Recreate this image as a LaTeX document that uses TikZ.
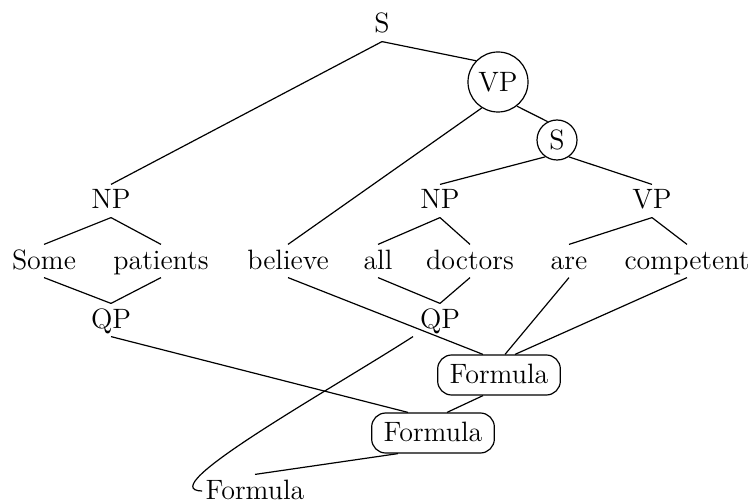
\documentclass[tikz,border=0pt]{standalone}
\usepackage{tikz}
\usetikzlibrary{calc}
\tikzset{word/.style={font=\fontsize{14}{16}\selectfont,text height=10.5pt,text depth=2.5pt,inner sep=1.5pt},ring/.style={draw,circle,font=\fontsize{14}{16}\selectfont,inner sep=0pt},formula/.style={word,draw,rounded corners=7pt,inner xsep=6pt,inner ysep=3.5pt},edge/.style={line width=0.6pt}}

\begin{document}
\begin{tikzpicture}[x=0.5pt,y=-0.5pt,line width=0.6pt]
\useasboundingbox (0,0) rectangle (754,502);
% upper tree
\node[word] (S) at (382,25) {S};
\node[ring,minimum size=30pt] (VP) at (498,82) {VP};
\node[ring,minimum size=20pt] (S2) at (557,140) {S};
\node[word] (NPa) at (111,201) {NP};
\node[word] (NPb) at (440,201) {NP};
\node[word] (VP2) at (652,201) {VP};
% words
\node[word] (some) at (44,261) {Some};
\node[word] (patients) at (161,261) {patients};
\node[word] (believe) at (288,261) {believe};
\node[word] (all) at (378,261) {all};
\node[word] (doctors) at (470,261) {doctors};
\node[word] (are) at (569,261) {are};
\node[word] (competent) at (687,261) {competent};
% lower part
\node[word] (QPa) at (111,320) {QP};
\node[word] (QPb) at (440,320) {QP};
\node[formula] (F1) at (499,375) {Formula};
\node[formula] (F2) at (433,433) {Formula};
\node[word] (F3) at (255,491) {Formula};
\draw[edge] (S.south) -- (NPa.north);
\draw[edge] (S.south) -- (VP.136);
\draw[edge] (VP.238) -- (believe.north);
\draw[edge] (VP.-52) -- (S2.117);
\draw[edge] (S2.235) -- (NPb.north);
\draw[edge] (S2.-55) -- (VP2.north);
\foreach \a/\b in {NPa/some,NPa/patients,NPb/all,NPb/doctors,VP2/are,VP2/competent}{\draw[edge] (\a.south) -- (\b.north);}
\foreach \a/\b in {some/QPa,patients/QPa,all/QPb,doctors/QPb}{\draw[edge] (\a.south) -- (\b.north);}
\draw[edge] (believe.south) -- ([xshift=-8pt]F1.north);
\draw[edge] (are.south) -- ([xshift=3pt]F1.north);
\draw[edge] (competent.south) -- ([xshift=8pt]F1.north);
\draw[edge] (QPa.south) -- ([xshift=-12.5pt]F2.north);
\draw[edge] ([xshift=-8pt]F1.south) -- ([xshift=7pt]F2.north);
\draw[edge] ([xshift=-17.5pt]F2.south) -- (F3.north);
\draw[edge] ([xshift=-13.5pt]QPb.south) .. controls (330,390) and (150,490) .. (F3.west);
\end{tikzpicture}
\end{document}
